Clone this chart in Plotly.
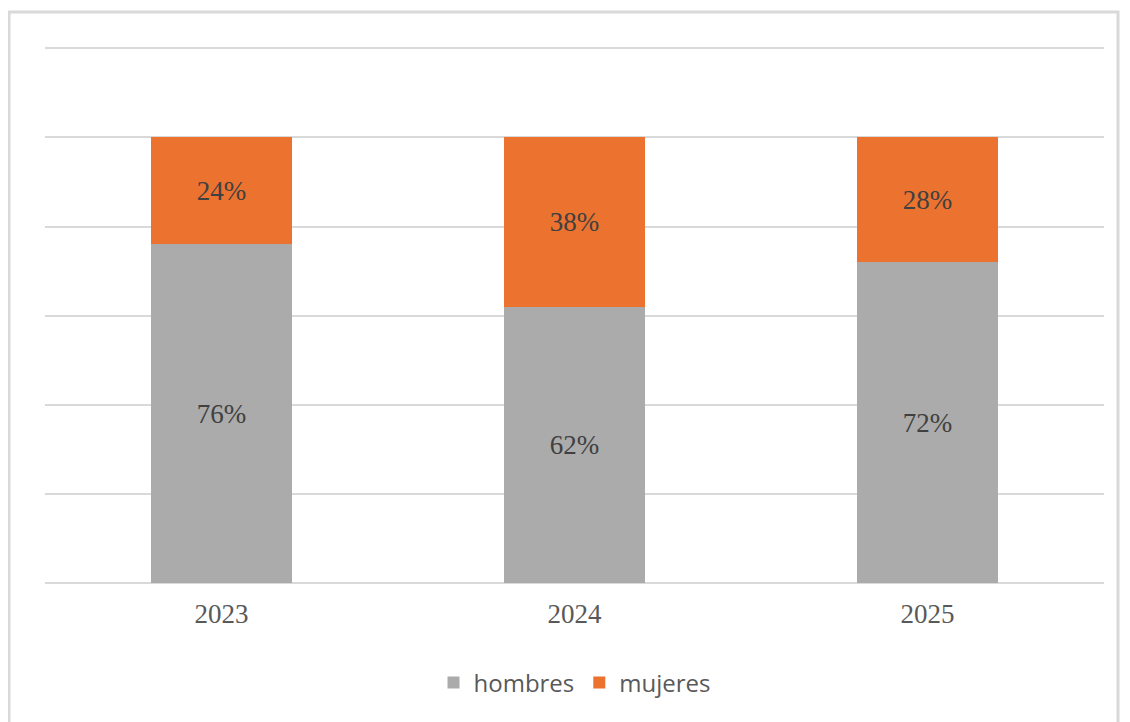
import plotly.graph_objects as go

years = ["2023", "2024", "2025"]
hombres = [76, 62, 72]
mujeres = [24, 38, 28]
series_names = ["hombres", "mujeres"]
colors = ["#ABABAB", "#EB722F"]

fig = go.Figure()
for name, vals, col in zip(series_names, [hombres, mujeres], colors):
    fig.add_trace(go.Bar(
        x=years, y=vals, name=name, marker=dict(color=col, line=dict(width=0)),
        text=[f"{v}%" for v in vals], textposition="inside", insidetextanchor="middle",
        textfont=dict(family="Liberation Serif", size=27, color="#404040"),
        hoverinfo="skip",
    ))

OFF = 8  # page body margin
W, H = 1130 - OFF, 722 - OFF
L, T = 45 - OFF, 47 - OFF
R = 1130 - 1104
B = 722 - 583
ph = H - T - B
pw = W - L - R

fig.update_layout(
    barmode="stack", bargap=0.6,
    width=W, height=H,
    margin=dict(l=L, r=R, t=T, b=B),
    paper_bgcolor="white", plot_bgcolor="white",
    yaxis=dict(range=[0, 120.3], tickvals=[0, 20, 40, 60, 80, 100, 120], showticklabels=False,
               showgrid=True, gridcolor="#D9D9D9", gridwidth=2, zeroline=True,
               zerolinecolor="#D9D9D9", zerolinewidth=2, fixedrange=True),
    xaxis=dict(showgrid=False, tickfont=dict(family="Liberation Serif", size=27, color="#595959"),
               ticklabelstandoff=12, showline=False, fixedrange=True),
    legend=dict(orientation="h", x=0.5, xanchor="center", y=(583 - 683) / ph, yanchor="middle",
                font=dict(family="Open Sans", size=24, color="#595959"), itemwidth=30,
                traceorder="normal"),
    showlegend=True,
)

fig.add_shape(type="rect", xref="paper", yref="paper",
              x0=(9 - 45) / pw, x1=(1118 - 45) / pw,
              y0=(583 - 740) / ph, y1=(583 - 12) / ph,
              line=dict(color="#D9D9D9", width=3), fillcolor="rgba(0,0,0,0)", layer="below")

fig.write_html("out.html")
